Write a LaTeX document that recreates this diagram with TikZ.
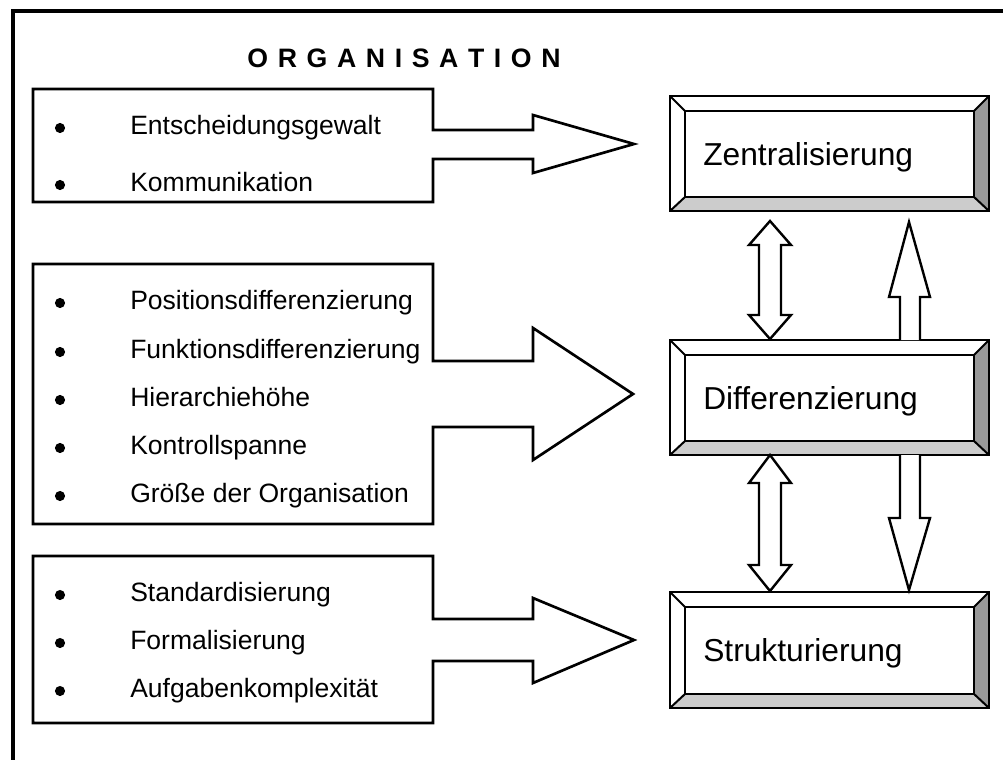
\documentclass[tikz,border=0pt]{standalone}
\usepackage{fontspec}
\setmainfont{Liberation Sans}
\usepackage{tikz}
\definecolor{bevellow}{HTML}{CCCCCC}
\definecolor{bevelside}{HTML}{999999}
\tikzset{
  outline/.style={line width=2pt, line join=miter},
  thinline/.style={line width=1.5pt, line join=miter},
  blockarrow/.style={line width=1.8pt, line join=miter, fill=white},
  listitem/.style={anchor=west, inner sep=0pt, text height=14.2pt, text depth=0pt,
    font=\fontsize{19.9}{24}\selectfont},
  boxlabel/.style={anchor=west, inner sep=0pt, text height=17pt, text depth=0pt,
    font=\fontsize{23.8}{28}\selectfont},
}
% bevelled box: top y, bottom y, node name, label
\newcommand{\bevelbox}[4]{%
  \fill[white] (670,#1) rectangle (989,#2);
  \fill[bevellow] (670,#2) -- (989,#2) -- (974,#2-14) -- (685,#2-14) -- cycle;
  \fill[bevelside] (989,#1) -- (989,#2) -- (974,#2-14) -- (974,#1+15) -- cycle;
  \draw[thinline] (670,#1) rectangle (989,#2);
  \draw[thinline] (685,#1+15) rectangle (974,#2-14);
  \draw[thinline] (670,#1) -- (685,#1+15) (989,#1) -- (974,#1+15)
                  (670,#2) -- (685,#2-14) (989,#2) -- (974,#2-14);
  \node[boxlabel] (#3) at (703,{(#1+#2+1)/2}) {#4};
}

\begin{document}
\begin{tikzpicture}[x=0.75pt,y=-0.75pt]
        \useasboundingbox (0,0) rectangle (1003,760);
        \draw[line width=3pt] (13,760) -- (13,11) -- (1003,11);
        \node[font=\bfseries\fontsize{20}{24}\selectfont] (title) at (404,58)
             {\spaceskip=7.2pt\relax O R G A N I S A T I O N};
        % left boxes with their arrows
        \draw[outline] (33,89) -- (433,89) -- (433,130) -- (533,130) -- (533,115) -- (634,144)
             -- (533,173) -- (533,159) -- (433,159) -- (433,202) -- (33,202) -- cycle;
        \draw[outline] (33,264) -- (433,264) -- (433,361) -- (533,361) -- (533,328) -- (633,394)
             -- (533,460) -- (533,427) -- (433,427) -- (433,524) -- (33,524) -- cycle;
        \draw[outline] (33,556) -- (433,556) -- (433,619) -- (533,619) -- (533,598) -- (634,640)
             -- (533,683) -- (533,661) -- (433,661) -- (433,723) -- (33,723) -- cycle;
        \foreach \ItemY/\ItemText in {125/Entscheidungsgewalt, 182/Kommunikation,
                 300/Positionsdifferenzierung, 349/Funktionsdifferenzierung, 397/Hierarchiehöhe,
                 445/Kontrollspanne, 493/Größe der Organisation,
                 592/Standardisierung, 640/Formalisierung, 688/Aufgabenkomplexität}
        {
          \fill (60,\ItemY+3) circle (3.8pt);
          \node[listitem] (item\ItemY) at (130,\ItemY) {\ItemText};
        }
        % right boxes
        \bevelbox{96}{211}{zentral}{Zentralisierung}
        \bevelbox{340}{455}{diff}{Differenzierung}
        \bevelbox{592}{708}{struktur}{Strukturierung}
        % arrows between the boxes
        \draw[blockarrow] (770,221) -- (791,245) -- (781,245) -- (781,315) -- (791,315) -- (770,339)
             -- (749,315) -- (759,315) -- (759,245) -- (749,245) -- cycle;
        \draw[blockarrow] (770,455) -- (791,483) -- (781,483) -- (781,565) -- (791,565) -- (770,591)
             -- (749,565) -- (759,565) -- (759,483) -- (749,483) -- cycle;
        \draw[blockarrow] (900,340) -- (900,297) -- (889,297) -- (909,222) -- (930,297) -- (920,297) -- (920,340);
        \draw[blockarrow] (900,455) -- (900,518) -- (889,518) -- (909,590) -- (930,518) -- (920,518) -- (920,455);
\end{tikzpicture}
\end{document}
